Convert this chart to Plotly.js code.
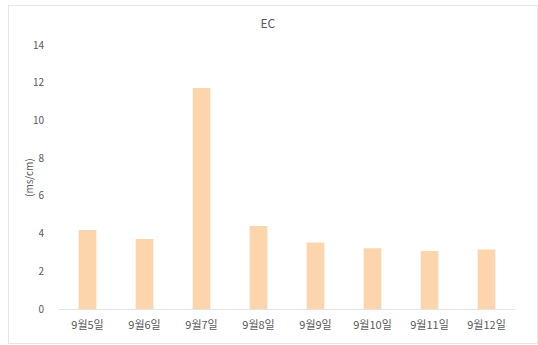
<!DOCTYPE html>
<html>
<head>
<meta charset="utf-8">
<script src="https://cdn.plot.ly/plotly-3.0.1.min.js"></script>
<style>
  html, body { margin: 0; padding: 0; background: #fff; }
  #wrap { position: relative; width: 538px; height: 345px; }
  #chart { position: absolute; left: 0; top: 0; width: 538px; height: 345px; }
  #frame { position: absolute; left: 8px; top: 5px; width: 528px; height: 337px;
           border: 1px solid #e6e6e6; pointer-events: none; }
</style>
</head>
<body>
<div id="wrap">
  <div id="chart"></div>
  <div id="frame"></div>
</div>
<script>
// Daily EC readings
const dates = ['9월5일', '9월6일', '9월7일', '9월8일', '9월9일', '9월10일', '9월11일', '9월12일'];
const ecValues = [4.19, 3.71, 11.72, 4.40, 3.52, 3.22, 3.07, 3.16];
const yTicks = [0, 2, 4, 6, 8, 10, 12, 14];
const unitLabel = '(ms/cm)';

const fontFamily = '"Noto Sans CJK KR", "Noto Sans", sans-serif';
const textColor = '#595959';

const trace = {
  type: 'bar',
  x: dates,
  y: ecValues,
  marker: { color: '#fdd5ad' },
  hoverinfo: 'x+y'
};

const layout = {
  width: 538,
  height: 345,
  margin: { l: 59, r: 23, t: 45, b: 36 },
  paper_bgcolor: 'rgba(0,0,0,0)',
  plot_bgcolor: 'rgba(0,0,0,0)',
  bargap: 0.69,
  showlegend: false,
  title: {
    text: 'EC',
    x: 0.498,
    xanchor: 'center',
    y: 0.932,
    yanchor: 'middle',
    font: { family: fontFamily, size: 12, color: textColor }
  },
  xaxis: {
    type: 'category',
    showgrid: false,
    showline: true,
    linecolor: '#e3e3e3',
    linewidth: 1,
    ticks: '',
    tickfont: { family: fontFamily, size: 11, color: textColor },
    ticklabelstandoff: 6
  },
  yaxis: {
    range: [0, 14],
    tickvals: yTicks,
    showgrid: false,
    zeroline: false,
    showline: false,
    ticks: '',
    ticklabelstandoff: 14,
    tickfont: { family: fontFamily, size: 10, color: textColor }
  },
  // unit label set beside the value axis
  annotations: [{
    text: unitLabel,
    xref: 'paper', yref: 'paper',
    x: -0.068, y: 0.5,
    xanchor: 'center', yanchor: 'middle',
    textangle: -90,
    showarrow: false,
    font: { family: fontFamily, size: 10, color: textColor }
  }]
};

Plotly.newPlot('chart', [trace], layout, { displayModeBar: false, staticPlot: true });
</script>
</body>
</html>
